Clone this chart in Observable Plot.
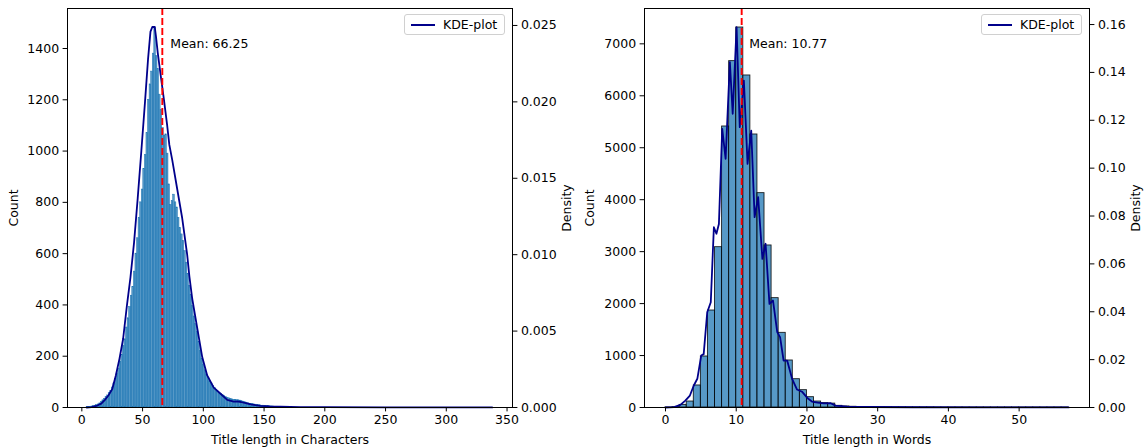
<!DOCTYPE html>
<html><head><meta charset="utf-8">
<script src="https://cdn.jsdelivr.net/npm/d3@7"></script>
<script src="https://cdn.jsdelivr.net/npm/@observablehq/plot@0.6"></script>
<style>
body{margin:0;background:#fff;}
#wrap{position:relative;width:1146px;height:448px;display:flex;}
#wrap svg{display:block;}
.leg{position:absolute;border:1px solid #d0d0d0;border-radius:3px;background:rgba(255,255,255,0.85);font:12.5px "DejaVu Sans";box-sizing:border-box;}
.leg .ln{position:absolute;height:2px;background:#00008b;}
.leg .tx{position:absolute;line-height:1;}
</style></head><body><div id="wrap"></div>
<script>
// ---------- data: title length in characters ----------
const charBinStart = 4;
const charBinWidth = 1.2946;
const charCounts = [1,2,2,4,5,7,10,12,16,21,28,34,40,47,56,64,78,94,112,132,152,178,205,240,266,312,348,392,436,470,530,600,660,740,800,850,930,985,1070,1200,1260,1310,1380,1482,1370,1320,1220,1160,1090,1060,1065,990,870,790,805,830,800,780,740,700,675,650,610,565,520,475,440,395,355,325,295,255,220,190,165,145,128,116,102,94,84,76,69,62,57,52,48,45,41,38,36,34,32,30,30,29,28,27,25,23,21,19,17,15,14,13,12,11,10,9,8,7,7,6,5,5,4,4,4,3,3,3,2,2,2];
const charKdeX = [3.9,8,12,16,19,22,25,28,31,34,37,40,43,46,49,52,54.5,56.5,58,60,61,62.5,64.8,67.5,70.2,72,74.4,78.5,82.6,86.7,88.5,90.9,95,99.1,103.2,108.6,114.2,119.7,125,128,131,135,139,143,147,155,163.5,180,200,250,300,337.8];
const charKdeDensity = [0,0.00003,0.0001,0.00025,0.0005,0.0008,0.0012,0.0021,0.0032,0.0045,0.0066,0.0085,0.0108,0.0137,0.0168,0.0200,0.0228,0.0246,0.0249,0.0249,0.0243,0.0232,0.0218,0.0202,0.0185,0.0172,0.0162,0.0143,0.0124,0.01,0.0086,0.0071,0.0052,0.0033,0.0021,0.0013,0.0009,0.0005,0.00038,0.0004,0.00036,0.00028,0.0002,0.00015,0.00011,0.00007,0.00005,0.00003,0.00002,0.00001,0.00001,0.000005];
const charMean = 66.25;

// ---------- data: title length in words ----------
const wordBinStart = 0;
const wordBinWidth = 1;
const wordCounts = [2,8,50,115,424,982,1867,3086,5409,6667,7314,6391,5255,4126,3119,2105,1437,905,545,334,199,115,85,75,32,20,14,10,7,6,5,4,3,3,2,2,2,2,1,1,1,1,1,1,1,1,1,1,1,1,1,1,1,1,1,1,1];
const wordKdeX = [0,1.2,2.1,2.8,3.45,4.0,4.5,5.05,5.4,5.9,6.4,6.84,7.2,7.55,8.02,8.5,9.1,9.5,10.05,10.5,11.08,11.6,12.12,12.6,13.1,13.7,14.15,14.7,15.2,15.8,16.2,16.7,17.2,17.9,18.6,19.3,20.05,20.7,21.5,22.4,23.35,24.05,25.7,28.5,35,45,57];
const wordKdeDensity = [0,0.00014,0.0011,0.0029,0.005,0.0092,0.012,0.0217,0.0223,0.0398,0.044,0.0753,0.0726,0.0767,0.1164,0.1039,0.1443,0.1227,0.1589,0.1171,0.1366,0.1018,0.1157,0.0795,0.0879,0.0621,0.0684,0.0433,0.0447,0.0315,0.0294,0.0196,0.0196,0.012,0.0075,0.0066,0.004,0.0025,0.002,0.0017,0.0018,0.0008,0.0004,0.0002,0.0001,0.00005,0.00003];
const wordMean = 10.77;

// ---------- axes (ticks & limits) ----------
const charXTicks = [0,50,100,150,200,250,300,350];
const charCountTicks = [0,200,400,600,800,1000,1200,1400];
const charDensityTicks = [0,0.005,0.010,0.015,0.020,0.025];
const charCountMax = 1556, charDensityMax = 0.02611;
const wordXTicks = [0,10,20,30,40,50];
const wordCountTicks = [0,1000,2000,3000,4000,5000,6000,7000];
const wordDensityTicks = [0,0.02,0.04,0.06,0.08,0.10,0.12,0.14,0.16];
const wordCountMax = 7680, wordDensityMax = 0.1667;

function makeBins(start, width, counts) {
  return counts.map((c, i) => ({x0: start + i * width, x1: start + (i + 1) * width, count: c}));
}
function makeKde(xs, ds) { return xs.map((x, i) => ({x, density: ds[i]})); }

function panel(o) {
  const k = o.countMax / o.densMax;
  return Plot.plot({
    width: 573, height: 448,
    marginLeft: o.mL, marginRight: o.mR, marginTop: 8, marginBottom: 41,
    x: {domain: o.xDomain},
    y: {domain: [0, o.countMax]},
    style: {fontFamily: "DejaVu Sans", fontSize: "12.5px", color: "#000", background: "transparent", overflow: "visible"},
    marks: [
      Plot.rectY(o.bins, {x1: "x0", x2: "x1", y: "count", fill: "#1f77b4", fillOpacity: 0.75,
        stroke: o.barStroke, strokeWidth: o.barStrokeWidth, strokeOpacity: o.barStrokeOpacity}),
      Plot.line(o.kde, {x: "x", y: d => d.density * k, stroke: "#00008b", strokeWidth: 1.8}),
      Plot.ruleX([o.mean], {stroke: "#ff0000", strokeWidth: 1.9, strokeDasharray: "7,3"}),
      Plot.text([o.mean], {x: d => d * 1.1, y: () => o.countMax * 0.9, text: d => `Mean: ${d.toFixed(2)}`,
        textAnchor: "start", lineAnchor: "bottom", fill: "#000"}),
      Plot.frame({stroke: "#000", strokeWidth: 1}),
      Plot.axisX({ticks: o.xTicks, tickSize: 4.4, tickPadding: 3, label: o.xLabel, labelAnchor: "center", labelArrow: "none", labelOffset: 36}),
      Plot.axisY({anchor: "left", ticks: o.countTicks, tickSize: 4.4, tickPadding: 4, tickFormat: d => String(d),
        label: "Count", labelAnchor: "center", labelArrow: "none", labelOffset: o.countLabelOffset}),
      Plot.axisY({anchor: "right", ticks: o.densTicks.map(t => t * k), tickSize: 4.4, tickPadding: 4,
        tickFormat: d => (d / k).toFixed(o.densDigits),
        label: "Density", labelAnchor: "center", labelArrow: "none", labelOffset: o.densLabelOffset})
    ]
  });
}

const wrap = document.getElementById("wrap");
wrap.appendChild(panel({
  bins: makeBins(charBinStart, charBinWidth, charCounts),
  kde: makeKde(charKdeX, charKdeDensity),
  mean: charMean, xDomain: [-11.8, 354.5], xTicks: charXTicks, xLabel: "Title length in Characters",
  countMax: charCountMax, densMax: charDensityMax, countTicks: charCountTicks, densTicks: charDensityTicks, densDigits: 3,
  mL: 67, mR: 61, barStroke: "#1f77b4", barStrokeWidth: 0.5, barStrokeOpacity: 1,
  countLabelOffset: 58, densLabelOffset: 58
}));
wrap.appendChild(panel({
  bins: makeBins(wordBinStart, wordBinWidth, wordCounts),
  kde: makeKde(wordKdeX, wordKdeDensity),
  mean: wordMean, xDomain: [-2.97, 59.95], xTicks: wordXTicks, xLabel: "Title length in Words",
  countMax: wordCountMax, densMax: wordDensityMax, countTicks: wordCountTicks, densTicks: wordDensityTicks, densDigits: 2,
  mL: 71, mR: 57, barStroke: "#000", barStrokeWidth: 0.9, barStrokeOpacity: 0.85,
  countLabelOffset: 59, densLabelOffset: 50
}));

function legend(left, top) {
  const d = document.createElement("div");
  d.className = "leg";
  d.style.left = left + "px"; d.style.top = top + "px"; d.style.width = "101px"; d.style.height = "21px";
  d.innerHTML = '<div class="ln" style="left:6px;width:24px;top:9px"></div><div class="tx" style="left:38px;top:4px">KDE-plot</div>';
  wrap.appendChild(d);
}
legend(404, 14);
legend(981, 14);
</script></body></html>
